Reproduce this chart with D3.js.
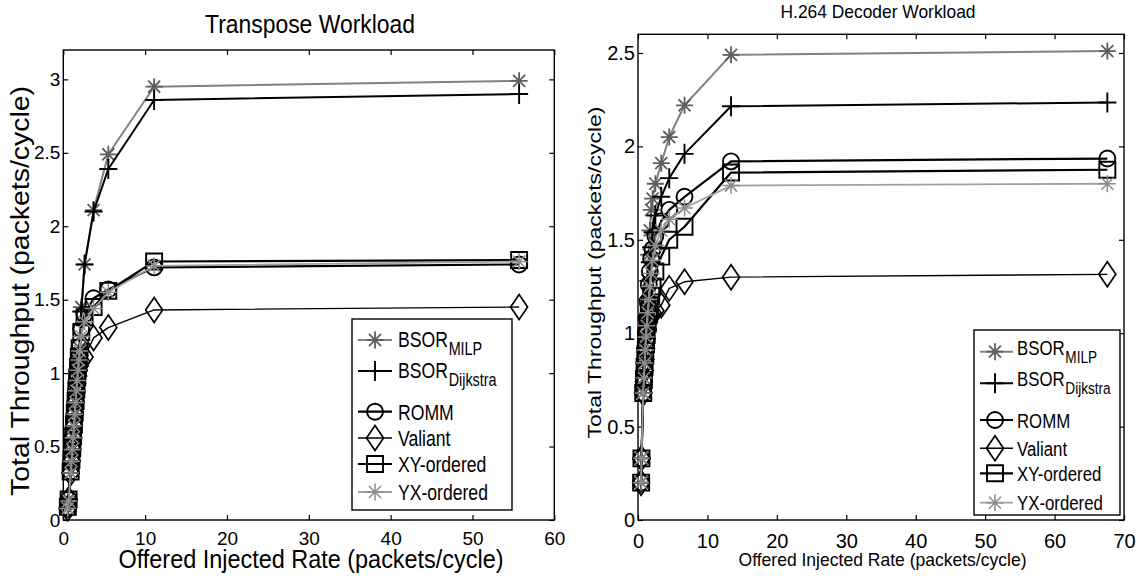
<!DOCTYPE html>
<html>
<head>
<meta charset="utf-8">
<script src="https://cdn.jsdelivr.net/npm/d3@7"></script>
<style>
body{margin:0;background:#fff;}
text{font-family:"Liberation Sans",Arial,Helvetica,sans-serif;fill:#000;}
</style>
</head>
<body>
<script>
(function(){

//legend labels (main text and subscript)
var seriesMain = ["BSOR", "BSOR", "ROMM", "Valiant", "XY-ordered", "YX-ordered"];
var seriesSub = ["MILP", "Dijkstra", "", "", "", ""];

//transpose workload: offered injected rate and total throughput per router
var transposeX = [0.55, 0.65, 0.9, 1.0, 1.1, 1.2, 1.3, 1.4, 1.5, 1.6, 1.7, 1.8, 1.9, 2.0, 2.2, 2.6, 3.7, 5.5, 11.1, 55.7];
var transposeMILP = [0.08, 0.14, 0.32, 0.40, 0.48, 0.56, 0.64, 0.72, 0.80, 0.88, 0.96, 1.03, 1.10, 1.17, 1.45, 1.74, 2.11, 2.49, 2.95, 2.99];
var transposeDijkstra = [0.08, 0.14, 0.32, 0.40, 0.48, 0.56, 0.64, 0.72, 0.80, 0.88, 0.96, 1.03, 1.10, 1.17, 1.42, 1.74, 2.10, 2.39, 2.86, 2.90];
var transposeROMM = [0.08, 0.14, 0.33, 0.41, 0.49, 0.57, 0.65, 0.73, 0.81, 0.89, 0.97, 1.04, 1.11, 1.18, 1.30, 1.40, 1.51, 1.57, 1.72, 1.74];
var transposeValiant = [0.08, 0.14, 0.32, 0.40, 0.48, 0.56, 0.64, 0.72, 0.80, 0.87, 0.93, 0.98, 1.02, 1.05, 1.08, 1.11, 1.24, 1.31, 1.43, 1.45];
var transposeXY = [0.09, 0.14, 0.33, 0.41, 0.49, 0.57, 0.65, 0.73, 0.81, 0.89, 0.97, 1.04, 1.11, 1.17, 1.28, 1.38, 1.45, 1.56, 1.76, 1.77];
var transposeYX = [0.08, 0.13, 0.32, 0.40, 0.48, 0.56, 0.64, 0.72, 0.80, 0.88, 0.95, 1.02, 1.09, 1.15, 1.25, 1.35, 1.44, 1.55, 1.73, 1.76];

//H.264 decoder workload
var h264X = [0.45, 0.5, 0.75, 0.85, 0.95, 1.05, 1.15, 1.25, 1.4, 1.55, 1.7, 1.9, 2.1, 2.5, 3.35, 4.5, 6.7, 13.4, 67.6];
var h264MILP = [0.20, 0.33, 0.68, 0.76, 0.85, 0.95, 1.05, 1.15, 1.28, 1.42, 1.55, 1.66, 1.72, 1.80, 1.91, 2.05, 2.22, 2.49, 2.51];
var h264Dijkstra = [0.20, 0.33, 0.68, 0.76, 0.84, 0.92, 1.00, 1.08, 1.18, 1.28, 1.38, 1.46, 1.54, 1.63, 1.73, 1.83, 1.96, 2.215, 2.235];
var h264ROMM = [0.20, 0.33, 0.68, 0.76, 0.84, 0.92, 1.00, 1.08, 1.17, 1.26, 1.33, 1.40, 1.45, 1.52, 1.60, 1.66, 1.73, 1.92, 1.935];
var h264Valiant = [0.20, 0.33, 0.68, 0.74, 0.80, 0.86, 0.92, 0.97, 1.02, 1.06, 1.09, 1.10, 1.11, 1.12, 1.15, 1.24, 1.275, 1.30, 1.315];
var h264XY = [0.20, 0.33, 0.68, 0.75, 0.82, 0.88, 0.94, 0.99, 1.05, 1.10, 1.15, 1.20, 1.25, 1.33, 1.41, 1.50, 1.57, 1.86, 1.875];
var h264YX = [0.20, 0.33, 0.68, 0.76, 0.84, 0.91, 0.98, 1.04, 1.11, 1.18, 1.25, 1.32, 1.39, 1.47, 1.55, 1.61, 1.67, 1.79, 1.80];

//tick values
var transposeXTicks = [0, 10, 20, 30, 40, 50, 60];
var transposeYTicks = [0, 0.5, 1, 1.5, 2, 2.5, 3];
var h264XTicks = [0, 10, 20, 30, 40, 50, 60, 70];
var h264YTicks = [0, 0.5, 1, 1.5, 2, 2.5];

//line and marker style of each series
var seriesStyle = [
    {marker: "asterisk", line: "#828282", mark: "#5e5e5e", width: 2, markWidth: 1.8},
    {marker: "plus", line: "#000", mark: "#000", width: 2, markWidth: 1.9},
    {marker: "circle", line: "#000", mark: "#000", width: 2.2, markWidth: 1.9},
    {marker: "diamond", line: "#000", mark: "#000", width: 1.4, markWidth: 1.7},
    {marker: "square", line: "#000", mark: "#000", width: 2.2, markWidth: 1.9},
    {marker: "asterisk", line: "#a0a0a0", mark: "#8c8c8c", width: 1.8, markWidth: 1.5}
];

var svg = d3.select("body")
    .append("svg")
    .attr("width", 1141)
    .attr("height", 584)
    .style("background-color", "#fff");

setPanel({
    left: 63.3, right: 554.3, top: 50, bottom: 520,
    xMax: 60, yMax: 3.2,
    xTicks: transposeXTicks, yTicks: transposeYTicks,
    tickFont: 19, xTickPad: 12,
    title: "Transpose Workload", titleX: 310, titleY: 33, titleFont: 25, titleLen: 210,
    xLabel: "Offered Injected Rate (packets/cycle)", xLabelX: 311, xLabelY: 568, xLabelFont: 25, xLabelLen: 385,
    yLabel: "Total Throughput (packets/cycle)", yLabelX: 29, yLabelY: 291, yLabelFont: 25, yLabelLen: 410,
    legend: {x0: 352, x1: 512, y0: 319, y1: 510, rows: [340, 371, 411.7, 438, 464, 492],
        lineX0: 358, lineX1: 392, markX: 375, textX: 398, mainFont: 22, subFont: 18,
        mainShift: 7, subDrop: 8, plainShift: 8}
}, transposeX, [transposeMILP, transposeDijkstra, transposeROMM, transposeValiant, transposeXY, transposeYX]);

setPanel({
    left: 638, right: 1124, top: 34.3, bottom: 520,
    xMax: 70, yMax: 2.6,
    xTicks: h264XTicks, yTicks: h264YTicks,
    tickFont: 20, xTickPad: 14,
    title: "H.264 Decoder Workload", titleX: 878, titleY: 17.5, titleFont: 19, titleLen: 195,
    xLabel: "Offered Injected Rate (packets/cycle)", xLabelX: 882.5, xLabelY: 566, xLabelFont: 19, xLabelLen: 288,
    yLabel: "Total Throughput (packets/cycle)", yLabelX: 601, yLabelY: 272.5, yLabelFont: 19, yLabelLen: 332,
    legend: {x0: 974, x1: 1120, y0: 330, y1: 515, rows: [351.7, 383.3, 420, 448.3, 473.3, 502.7],
        lineX0: 980, lineX1: 1013, markX: 995, textX: 1017, mainFont: 21, subFont: 17,
        mainShift: 3, subDrop: 8, plainShift: 7.5}
}, h264X, [h264MILP, h264Dijkstra, h264ROMM, h264Valiant, h264XY, h264YX]);

//build one axes box with its series and legend
function setPanel(p, xs, seriesY){

    var xScale = d3.scaleLinear()
        .domain([0, p.xMax])
        .range([p.left, p.right]);

    var yScale = d3.scaleLinear()
        .domain([0, p.yMax])
        .range([p.bottom, p.top]);

    var fmt = d3.format("~g");

    //bottom and left axes, ticks pointing inward
    var xAxis = svg.append("g")
        .attr("transform", "translate(0," + p.bottom + ")")
        .call(d3.axisBottom(xScale).tickValues(p.xTicks).tickFormat(fmt)
            .tickSizeInner(-5).tickSizeOuter(0).tickPadding(p.xTickPad));

    var yAxis = svg.append("g")
        .attr("transform", "translate(" + p.left + ",0)")
        .call(d3.axisLeft(yScale).tickValues(p.yTicks).tickFormat(fmt)
            .tickSizeInner(-5).tickSizeOuter(0).tickPadding(3));

    //mirrored ticks on top and right
    var xTop = svg.append("g")
        .attr("transform", "translate(0," + p.top + ")")
        .call(d3.axisTop(xScale).tickValues(p.xTicks).tickFormat("")
            .tickSizeInner(-5).tickSizeOuter(0));

    var yRight = svg.append("g")
        .attr("transform", "translate(" + p.right + ",0)")
        .call(d3.axisRight(yScale).tickValues(p.yTicks).tickFormat("")
            .tickSizeInner(-5).tickSizeOuter(0));

    [xAxis, yAxis, xTop, yRight].forEach(function(ax){
        ax.select(".domain").remove();
        ax.selectAll(".tick line").attr("stroke", "#000").attr("stroke-width", 1.2);
        ax.selectAll("text")
            .style("font-size", p.tickFont + "px")
            .style("font-family", "'Liberation Sans', Arial, sans-serif")
            .attr("fill", "#000");
    });

    //axes frame
    svg.append("rect")
        .attr("x", p.left)
        .attr("y", p.top)
        .attr("width", p.right - p.left)
        .attr("height", p.bottom - p.top)
        .attr("fill", "none")
        .attr("stroke", "#000")
        .attr("stroke-width", 1.4);

    //series lines then markers
    var line = d3.line()
        .x(function(d){ return xScale(d[0]); })
        .y(function(d){ return yScale(d[1]); });

    seriesY.forEach(function(ys, i){
        var st = seriesStyle[i];
        var pts = xs.map(function(x, j){ return [x, ys[j]]; });

        svg.append("path")
            .datum(pts)
            .attr("class", "series s" + i)
            .attr("d", line)
            .attr("fill", "none")
            .attr("stroke", st.line)
            .attr("stroke-width", st.width)
            .attr("stroke-linejoin", "round");

        svg.selectAll(".mk" + i + "-" + p.xMax)
            .data(pts)
            .enter()
            .append("path")
            .attr("class", "mk" + i + "-" + p.xMax)
            .attr("transform", function(d){
                return "translate(" + xScale(d[0]) + "," + yScale(d[1]) + ")";
            })
            .attr("d", markerPath(st.marker))
            .attr("fill", "none")
            .attr("stroke", st.mark)
            .attr("stroke-width", st.markWidth);
    });

    //titles and axis labels
    addText(p.titleX, p.titleY, p.title, p.titleFont, p.titleLen, 0);
    addText(p.xLabelX, p.xLabelY, p.xLabel, p.xLabelFont, p.xLabelLen, 0);
    addText(p.yLabelX, p.yLabelY, p.yLabel, p.yLabelFont, p.yLabelLen, -90);

    setLegend(p.legend);
};

function addText(x, y, str, size, len, rot){
    svg.append("text")
        .attr("transform", "translate(" + x + "," + y + ") rotate(" + rot + ")")
        .attr("text-anchor", "middle")
        .attr("textLength", len)
        .attr("lengthAdjust", "spacingAndGlyphs")
        .style("font-size", size + "px")
        .text(str);
};

function setLegend(lg){
    svg.append("rect")
        .attr("x", lg.x0)
        .attr("y", lg.y0)
        .attr("width", lg.x1 - lg.x0)
        .attr("height", lg.y1 - lg.y0)
        .attr("fill", "#fff")
        .attr("stroke", "#000")
        .attr("stroke-width", 1.4);

    seriesMain.forEach(function(label, i){
        var st = seriesStyle[i];
        var y = lg.rows[i];

        svg.append("line")
            .attr("x1", lg.lineX0)
            .attr("x2", lg.lineX1)
            .attr("y1", y)
            .attr("y2", y)
            .attr("stroke", st.line)
            .attr("stroke-width", st.width);

        svg.append("path")
            .attr("transform", "translate(" + lg.markX + "," + y + ")")
            .attr("d", markerPath(st.marker))
            .attr("fill", "none")
            .attr("stroke", st.mark)
            .attr("stroke-width", st.markWidth);

        //one text per entry, subscript as a lowered tspan, squeezed to the narrow print face
        var hasSub = seriesSub[i] !== "";
        var entry = svg.append("text")
            .attr("transform", "translate(" + lg.textX + "," + (y + (hasSub ? lg.mainShift : lg.plainShift)) + ") scale(0.8,1)")
            .style("font-size", lg.mainFont + "px");

        entry.append("tspan").text(label);

        if (hasSub){
            entry.append("tspan")
                .attr("dx", 1)
                .attr("dy", lg.subDrop)
                .style("font-size", lg.subFont + "px")
                .text(seriesSub[i]);
        };
    });
};

//marker shapes centred on 0,0
function markerPath(type){
    var r = 8.5, a = r * 0.71;
    if (type == "asterisk"){
        return "M" + (-r) + ",0H" + r + "M0," + (-r) + "V" + r +
            "M" + (-a) + "," + (-a) + "L" + a + "," + a +
            "M" + (-a) + "," + a + "L" + a + "," + (-a);
    } else if (type == "plus"){
        return "M-9,0H9M0,-10V10";
    } else if (type == "circle"){
        return "M8,0A8,8 0 1,1 -8,0A8,8 0 1,1 8,0Z";
    } else if (type == "diamond"){
        return "M0,-12.5L8.5,0L0,12.5L-8.5,0Z";
    } else {
        return "M-8,-8H8V8H-8Z";
    };
};

})();
</script>
</body>
</html>
